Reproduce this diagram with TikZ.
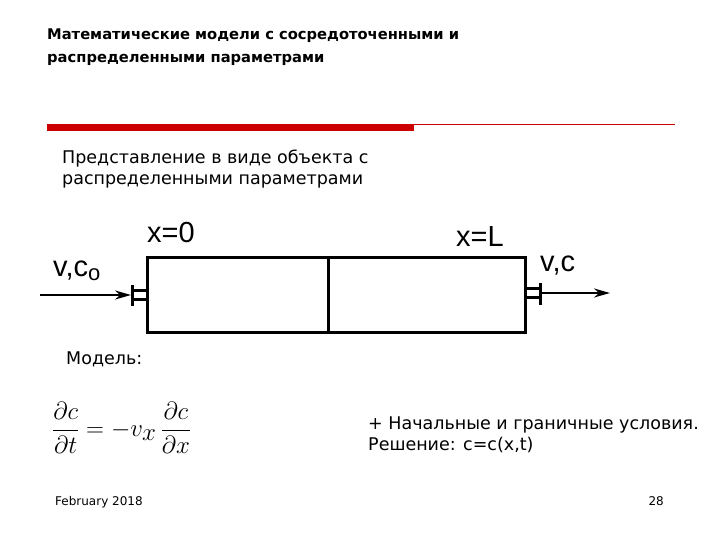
\documentclass[tikz,border=0pt]{standalone}
\usepackage{fontspec}
\setmainfont{DejaVu Sans}
\newfontfamily\arial{Liberation Sans}
\usetikzlibrary{arrows.meta}
\tikzset{wall/.style={line width=3pt},
 lbl/.style={font=\arial\fontsize{29}{29}\selectfont,inner sep=0pt,anchor=base west},
 txt/.style={font=\fontsize{17.5}{21}\selectfont,inner sep=0pt,anchor=north west,align=left},
 flow/.style={line width=2pt,-{Stealth[length=16pt,width=9pt]}}}
\begin{document}
\begin{tikzpicture}[x=1pt,y=-1pt]
\useasboundingbox (0,0) rectangle (720,540);
\node[txt,font=\bfseries\fontsize{14.7}{23}\selectfont] (title) at (47,29) {Математические модели с сосредоточенными и\\распределенными параметрами};
\fill[red!80!black] (47,124) rectangle (414,131);
\draw[red!80!black,line width=0.6pt] (414,124) -- (675,124);
\node[txt] (sub) at (62,150) {Представление в виде объекта с\\распределенными параметрами};
\draw[wall] (147,257) rectangle (525,332);
\draw[wall] (328,257) -- (328,332);
\draw[wall] (132,285) -- (132,306) (132,290) -- (147,290) (132,299) -- (147,299);
\draw[wall] (540,283) -- (540,305) (525,288) -- (540,288) (525,297) -- (540,297);
\coordinate (in) at (40,295);
\coordinate (inend) at (131,295);
\coordinate (outs) at (541,293);
\coordinate (out) at (610,293);
\draw[flow] (in) -- (inend);
\draw[flow] (outs) -- (out);
\node[lbl] (x0) at (147,242) {x=0};
\node[lbl] (xL) at (456,246) {x=L};
\node[lbl] (vc0) at (53,276) {v,c\raisebox{-4pt}{\fontsize{22}{22}\selectfont o}};
\node[lbl] (vc) at (540,271) {v,c};
\node[txt] (model) at (66,352) {Модель:};
\node[inner sep=0pt,anchor=west,font=\fontsize{33}{33}\selectfont] (eq) at (52,428) {$\displaystyle\frac{\partial c}{\partial t}=-v_{x}\,\frac{\partial c}{\partial x}$};
\node[txt] (cond) at (368,417) {+ Начальные и граничные условия.\\Решение: c=c(x,t)};
\node[inner sep=0pt,anchor=base west,font=\fontsize{12}{12}\selectfont] (date) at (55,505) {February 2018};
\node[inner sep=0pt,anchor=base east,font=\fontsize{12}{12}\selectfont] (pg) at (664,505) {28};
\end{tikzpicture}
\end{document}
